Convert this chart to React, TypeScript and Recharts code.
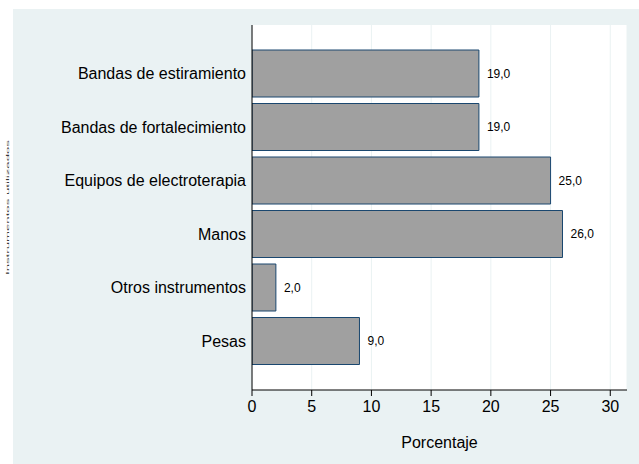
import React from "react";
import {
  BarChart,
  Bar,
  XAxis,
  YAxis,
  CartesianGrid,
  LabelList,
} from "recharts";

const categories = [
  "Bandas de estiramiento",
  "Bandas de fortalecimiento",
  "Equipos de electroterapia",
  "Manos",
  "Otros instrumentos",
  "Pesas",
];
const percentages = [19, 19, 25, 26, 2, 9];
const xTicks = [0, 5, 10, 15, 20, 25, 30];

const data = categories.map((name, i) => ({ name, value: percentages[i] }));

const FONT = "'Liberation Sans', Arial, sans-serif";

export default function App() {
  return (
    <div
      style={{
        position: "fixed",
        left: 0,
        top: 0,
        width: 639,
        height: 464,
        background: "#ffffff",
        overflow: "hidden",
        fontFamily: FONT,
      }}
    >
      {/* Stata-style outer panel */}
      <div
        style={{
          position: "absolute",
          left: 13,
          top: 9,
          width: 626,
          height: 455,
          background: "#eaf2f3",
        }}
      >
        <BarChart
          width={626}
          height={455}
          data={data}
          layout="vertical"
          margin={{ top: 16, right: 12, left: 0, bottom: 14 }}
          barCategoryGap={0}
        >
          <CartesianGrid horizontal={false} stroke="#eaf2f3" fill="#ffffff" />
          <XAxis
            type="number"
            domain={[0, 31.4]}
            ticks={xTicks}
            allowDataOverflow
            height={60}
            stroke="#000"
            tickSize={6}
            tickMargin={5}
            tick={{ fill: "#000", fontSize: 16, fontFamily: FONT }}
            label={{
              value: "Porcentaje",
              position: "insideBottom",
              offset: 2,
              fill: "#000",
              fontSize: 16,
              fontFamily: FONT,
            }}
          />
          <YAxis
            type="category"
            dataKey="name"
            width={239}
            stroke="#000"
            tickLine={false}
            tickSize={0}
            tickMargin={6}
            padding={{ top: 22, bottom: 22 }}
            tick={{ fill: "#000", fontSize: 16, fontFamily: FONT }}
          />
          <Bar
            dataKey="value"
            fill="#a0a0a0"
            stroke="#1a476f"
            strokeWidth={1}
            barSize={47}
            isAnimationActive={false}
          >
            <LabelList
              dataKey="value"
              position="right"
              offset={8}
              fill="#000"
              fontSize={12}
              fontFamily={FONT}
              formatter={(v: number) => v.toFixed(1).replace(".", ",")}
            />
          </Bar>
        </BarChart>
      </div>
      {/* tiny squashed y title at the far left */}
      <svg
        width={12}
        height={160}
        style={{ position: "absolute", left: 2, top: 130 }}
      >
        <text
          x={0}
          y={0}
          transform="translate(7,145) rotate(-90)"
          fontSize={4}
          fill="#333"
          textLength={135}
          lengthAdjust="spacingAndGlyphs"
          fontFamily={FONT}
        >
          Instrumentos utilizados
        </text>
      </svg>
    </div>
  );
}
